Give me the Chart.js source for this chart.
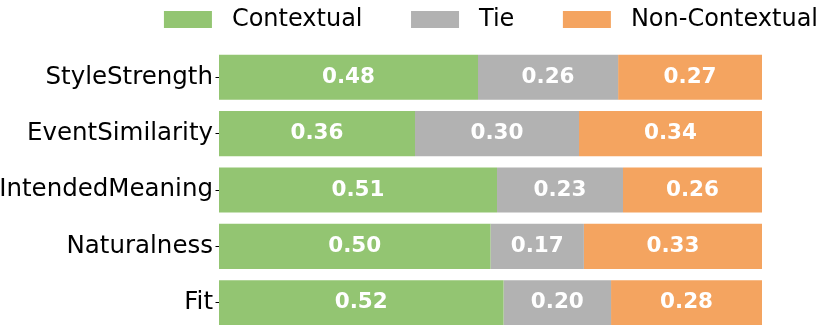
<!DOCTYPE html>
<html>
<head>
<meta charset="utf-8">
<script src="https://cdn.jsdelivr.net/npm/chart.js@4/dist/chart.umd.min.js"></script>
<style>
  html, body { margin: 0; padding: 0; background: #fff; overflow: hidden; }
  #wrap { width: 830px; height: 325px; overflow: hidden; }
</style>
</head>
<body>
<div id="wrap"><canvas id="grafico" width="830" height="331"></canvas></div>
<script>
// categorias de cima para baixo
const categorias = ['StyleStrength', 'EventSimilarity', 'IntendedMeaning', 'Naturalness', 'Fit'];
const nomesSeries = ['Contextual', 'Tie', 'Non-Contextual'];

// valores (proporções por linha)
const contextual = [0.477, 0.361, 0.512, 0.500, 0.524];
const empate = [0.258, 0.302, 0.232, 0.172, 0.198];
const naoContextual = [0.265, 0.337, 0.256, 0.328, 0.278];

const cores = ['#93c572', '#b2b2b2', '#f4a460'];
const fonte = '"DejaVu Sans", sans-serif';

// legenda desenhada à mão para acertar os espaçamentos
const legendaPlugin = {
    id: 'legendaTopo',
    afterDraw(chart) {
        const ctx = chart.ctx;
        ctx.save();
        ctx.font = '24px ' + fonte;
        const caixaW = 48, caixaH = 17, gapTexto = 20, gapItem = 48.5;
        const larguras = chart.data.datasets.map(ds => ctx.measureText(ds.label).width);
        let total = 0;
        larguras.forEach((w, i) => {
            total += caixaW + gapTexto + w;
            if (i < larguras.length - 1) total += gapItem;
        });
        let x = chart.width - 12 - total;
        chart.data.datasets.forEach((ds, i) => {
            ctx.fillStyle = ds.backgroundColor;
            ctx.fillRect(x, 11, caixaW, caixaH);
            ctx.fillStyle = '#000';
            ctx.textAlign = 'left';
            ctx.textBaseline = 'middle';
            ctx.fillText(ds.label, x + caixaW + gapTexto, 20);
            x += caixaW + gapTexto + larguras[i] + gapItem;
        });
        ctx.restore();
    }
};

// rótulos brancos no meio de cada segmento
const rotulosPlugin = {
    id: 'rotulosBarras',
    afterDatasetsDraw(chart) {
        const ctx = chart.ctx;
        ctx.save();
        ctx.font = 'bold 21.5px ' + fonte;
        ctx.fillStyle = '#fff';
        ctx.textAlign = 'center';
        ctx.textBaseline = 'middle';
        chart.data.datasets.forEach((ds, i) => {
            const meta = chart.getDatasetMeta(i);
            meta.data.forEach((el, j) => {
                const p = el.getProps(['x', 'y', 'base'], true);
                ctx.fillText(ds.data[j].toFixed(2), (p.x + p.base) / 2, p.y);
            });
        });
        ctx.restore();
    }
};

const series = [contextual, empate, naoContextual];

new Chart(document.getElementById('grafico'), {
    type: 'bar',
    data: {
        labels: categorias,
        datasets: series.map((valores, i) => ({
            label: nomesSeries[i],
            data: valores,
            backgroundColor: cores[i],
            borderWidth: 0,
            barPercentage: 0.8,
            categoryPercentage: 1.0
        }))
    },
    options: {
        indexAxis: 'y',
        responsive: false,
        animation: false,
        layout: {
            padding: { top: 49, right: 68, bottom: 0, left: 0 }
        },
        plugins: {
            legend: { display: false },
            tooltip: { enabled: false }
        },
        scales: {
            x: {
                stacked: true,
                display: false,
                min: 0,
                max: 1
            },
            y: {
                stacked: true,
                afterFit(scale) {
                    scale.width = 219;
                    scale.paddingTop = 0;
                    scale.paddingBottom = 0;
                },
                border: { display: false },
                grid: {
                    offset: false,
                    drawOnChartArea: false,
                    drawTicks: true,
                    tickLength: 3.5,
                    color: '#000',
                    lineWidth: 1
                },
                ticks: {
                    color: '#000',
                    padding: 2.5,
                    font: { family: fonte, size: 24.5 }
                }
            }
        }
    },
    plugins: [legendaPlugin, rotulosPlugin]
});
</script>
</body>
</html>
